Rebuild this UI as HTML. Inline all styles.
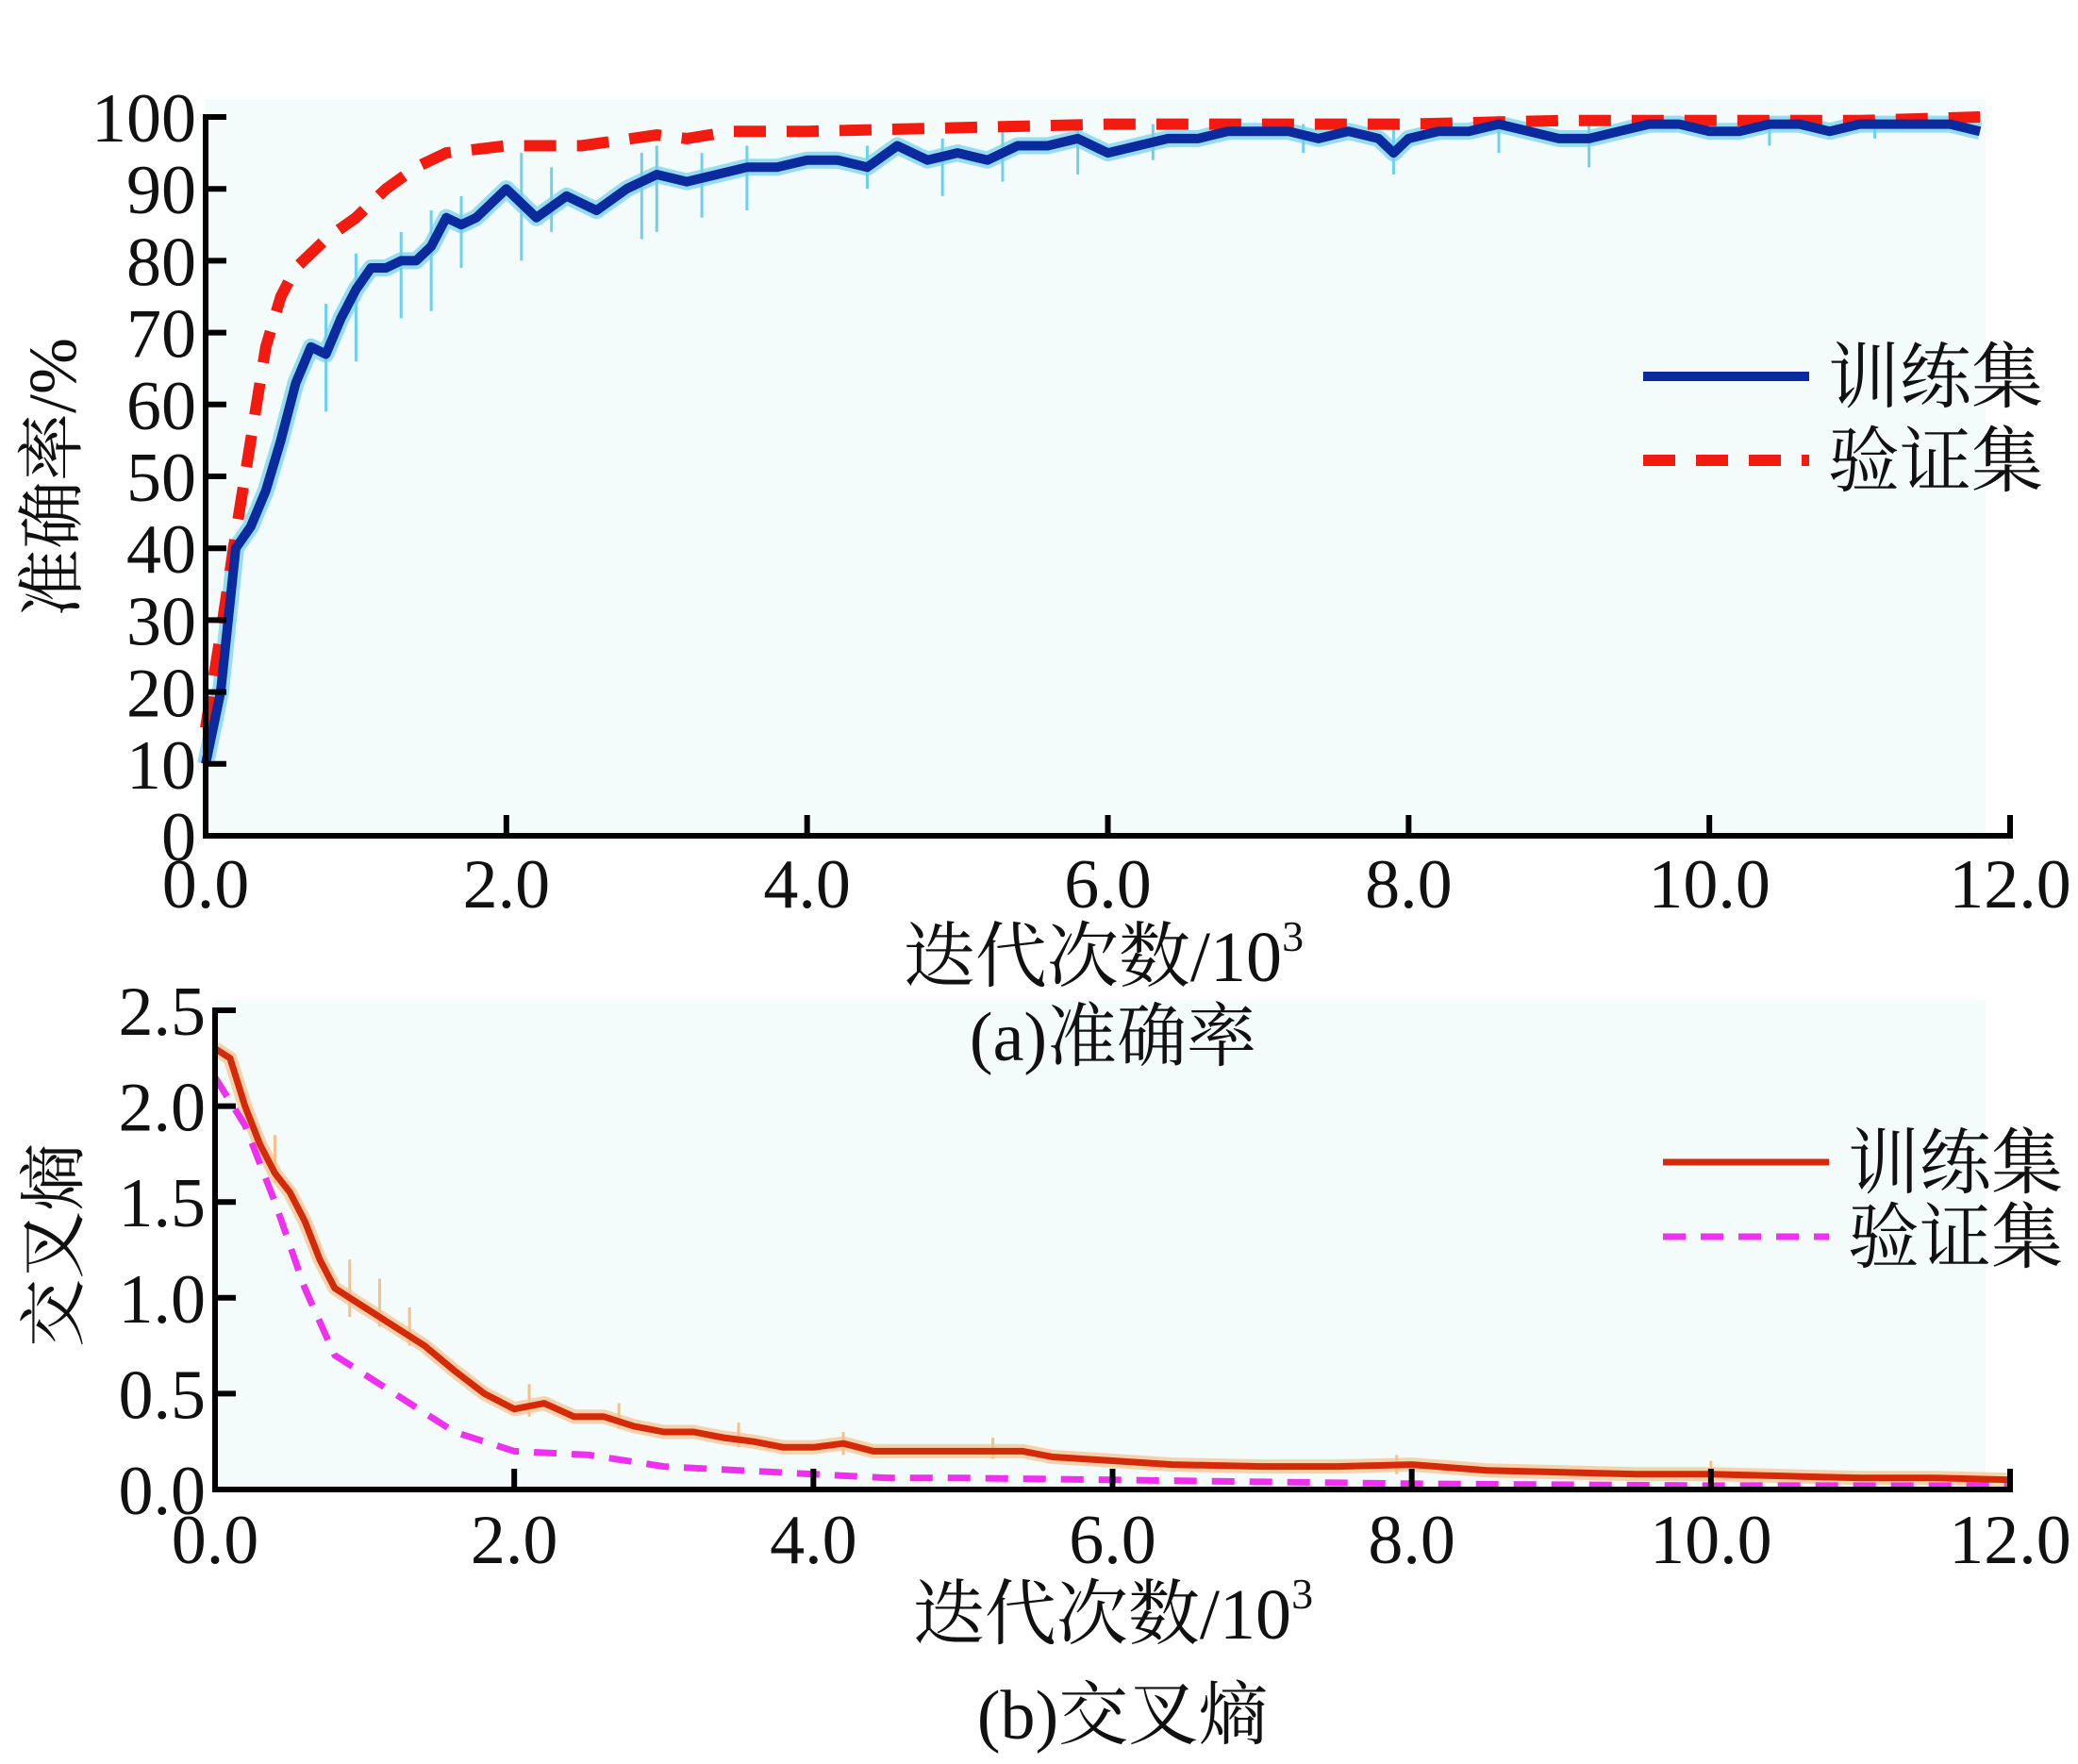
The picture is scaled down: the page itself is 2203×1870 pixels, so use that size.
<!DOCTYPE html>
<html><head><meta charset="utf-8"><style>
html,body{margin:0;padding:0;background:#fff}
svg{display:block}
text{font-family:"Liberation Serif","Noto Serif CJK SC",serif;fill:#111}
</style></head><body>
<svg id="fig" width="2203" height="1870" viewBox="0 0 2203 1870" xmlns="http://www.w3.org/2000/svg">
<g id="ga"></g>
<g id="gb"></g>
<g id="caps"></g>
</svg>
<script>
// ---- chart (a) data ----
const accTrainX=[0,0.1,0.2,0.3,0.4,0.5,0.6,0.7,0.8,0.9,1.0,1.1,1.2,1.3,1.4,1.5,1.6,1.7,1.8,2.0,2.2,2.4,2.6,2.8,3.0,3.2,3.4,3.6,3.8,4.0,4.2,4.4,4.6,4.8,5.0,5.2,5.4,5.6,5.8,6.0,6.2,6.4,6.6,6.8,7.0,7.2,7.4,7.6,7.8,7.9,8.0,8.2,8.4,8.6,8.8,9.0,9.2,9.4,9.6,9.8,10.0,10.2,10.4,10.6,10.8,11.0,11.2,11.4,11.6,11.8];
const accTrain=[10,20,40,43,48,55,63,68,67,72,76,79,79,80,80,82,86,85,86,90,86,89,87,90,92,91,92,93,93,94,94,93,96,94,95,94,96,96,97,95,96,97,97,98,98,98,97,98,97,95,97,98,98,99,98,97,97,98,99,99,98,98,99,99,98,99,99,99,99,98];
const accValX=[0,0.1,0.2,0.3,0.4,0.5,0.6,0.8,1.0,1.2,1.4,1.6,1.8,2.0,2.5,3.0,3.2,3.5,4,5,6,7,8,9,10,11,11.8];
const accVal=[15,28,42,55,68,75,79,83,86,90,93,95,95.5,96,96,97.5,97,98,98,98.5,99,99,99,99.5,99.5,99.5,100];
const accSpikeX=[0.8,1.0,1.3,1.5,1.7,2.1,2.3,2.9,3.0,3.3,3.6,4.4,4.9,5.3,5.8,6.3,7.3,7.9,8.6,9.2,10.4,11.1];
const accSpikeLo=[59,66,72,73,79,80,84,83,84,86,87,90,89,91,92,94,95,92,95,93,96,97];
const accSpikeHi=[74,81,84,87,89,95,93,95,96,95,96,96,97,98,99,99,99,99,100,99,100,100];
const accYTicks=[0,10,20,30,40,50,60,70,80,90,100];
const xTicks=[0,2,4,6,8,10,12];
const xTickLabels=["0.0","2.0","4.0","6.0","8.0","10.0","12.0"];
// ---- chart (b) data ----
const lossTrainX=[0,0.1,0.2,0.3,0.4,0.5,0.6,0.7,0.8,0.9,1.0,1.2,1.4,1.6,1.8,2.0,2.2,2.4,2.6,2.8,3.0,3.2,3.4,3.6,3.8,4.0,4.2,4.4,4.6,5.0,5.4,5.6,6.0,6.4,7,7.5,8.0,8.5,9,9.5,10,10.5,11,11.5,12];
const lossTrain=[2.3,2.25,2.0,1.8,1.65,1.55,1.4,1.2,1.05,1.0,0.95,0.85,0.75,0.62,0.5,0.42,0.45,0.38,0.38,0.33,0.3,0.3,0.27,0.25,0.22,0.22,0.24,0.2,0.2,0.2,0.2,0.17,0.15,0.13,0.12,0.12,0.13,0.1,0.09,0.08,0.08,0.07,0.06,0.06,0.05];
const lossValX=[0,0.2,0.4,0.6,0.8,1.0,1.2,1.4,1.6,1.8,2.0,2.5,3,3.5,4,4.5,5,6,7,8,10,12];
const lossVal=[2.15,1.9,1.5,1.05,0.7,0.6,0.5,0.4,0.3,0.25,0.2,0.18,0.12,0.1,0.08,0.06,0.06,0.05,0.04,0.03,0.02,0.02];
const lossSpikeX=[0.4,0.9,1.1,1.3,2.1,2.7,3.5,4.2,5.2,7.9,10.0];
const lossSpikeLo=[1.6,0.9,0.85,0.75,0.38,0.32,0.22,0.18,0.16,0.08,0.05];
const lossSpikeHi=[1.85,1.2,1.1,0.95,0.55,0.45,0.35,0.3,0.27,0.18,0.15];
const lossYTicks=[0,0.5,1.0,1.5,2.0,2.5];
const lossYLabels=["0.0","0.5","1.0","1.5","2.0","2.5"];

const NS="http://www.w3.org/2000/svg";
function mk(parent,tag,attrs,txt){const e=document.createElementNS(NS,tag);for(const k in attrs)e.setAttribute(k,attrs[k]);if(txt!==undefined)e.textContent=txt;parent.appendChild(e);return e;}
function pathD(xs,ys,sx,sy){return xs.map((x,i)=>(i?"L":"M")+sx(x).toFixed(1)+" "+sy(ys[i]).toFixed(1)).join(" ");}
const caps=document.getElementById("caps");

function chart(g,o){
  const sx=v=>o.x0+(v-0)/12*(o.x1-o.x0);
  const sy=v=>o.y0-(v-o.ymin)/(o.ymax-o.ymin)*(o.y0-o.ytop);
  let bg=mk(g,"rect",{x:o.x0,y:o.bgTop,width:o.bgRight-o.x0,height:o.y0-o.bgTop,fill:"#f3fbfb"});
  
  
  o.spX.forEach((x,i)=>{
    let s=mk(g,"line",{x1:sx(x),x2:sx(x),y1:sy(o.spLo[i]),y2:sy(o.spHi[i]),stroke:o.rawColor,"stroke-width":3});
    
    
  });
  let raw=mk(g,"path",{d:pathD(o.tx,o.ty,sx,sy),fill:"none",stroke:o.rawColor,"stroke-width":o.trainW+8,"stroke-linejoin":"round",opacity:0.7});
  
  
  let vl=mk(g,"path",{d:pathD(o.vx,o.vy,sx,sy),fill:"none",stroke:o.valColor,"stroke-width":o.valW,"stroke-dasharray":o.dash});
  
  
  let tl=mk(g,"path",{d:pathD(o.tx,o.ty,sx,sy),fill:"none",stroke:o.trainColor,"stroke-width":o.trainW,"stroke-linejoin":"round"});
  
  
  let ax=mk(g,"path",{d:`M${o.x0} ${o.ytop-3} L${o.x0} ${o.y0} L${o.x1} ${o.y0} L${o.x1} ${o.y0-22}`,fill:"none",stroke:"#000","stroke-width":6});
  
  
  o.yt.forEach((v,i)=>{
    let t=mk(g,"line",{x1:o.x0,x2:o.x0+22,y1:sy(v),y2:sy(v),stroke:"#000","stroke-width":6});
    
    
    let l=mk(g,"text",{x:o.x0-10,y:sy(v)+26,"font-size":74,"text-anchor":"end"},o.yl[i]);
    
    
  });
  xTicks.forEach((v,i)=>{
    if(i>0&&i<6){let t=mk(g,"line",{x1:sx(v),x2:sx(v),y1:o.y0,y2:o.y0-22,stroke:"#000","stroke-width":6});
    
    }
    let l=mk(g,"text",{x:sx(v),y:o.xlY,"font-size":74,"text-anchor":"middle"},xTickLabels[i]);
    
    
  });
  let xt=mk(g,"text",{x:o.xtX,y:o.xtY,"font-size":76,"text-anchor":"middle"});
  
  
  xt.innerHTML='迭代次数/10<tspan font-size="46" dy="-32">3</tspan>';
  let yt=mk(g,"text",{x:0,y:0,"font-size":72,"text-anchor":"middle",transform:`translate(${o.ytX},${o.ytY}) rotate(-90)`},o.yTitle);
  
  
  let cap=mk(caps,"text",{x:o.capX,y:o.capY,"font-size":74,"text-anchor":"middle"},o.caption);
  
  
  let lg=mk(g,"g",{});
  
  
  let l1=mk(lg,"line",{x1:o.lgX,x2:o.lgX+176,y1:o.lgY,y2:o.lgY,stroke:o.trainColor,"stroke-width":o.trainW});
  
  
  let t1=mk(lg,"text",{x:o.lgX+196,y:o.lgY+27,"font-size":76},"训练集");
  
  
  let l2=mk(lg,"line",{x1:o.lgX,x2:o.lgX+176,y1:o.lgY+o.lgGap,y2:o.lgY+o.lgGap,stroke:o.valColor,"stroke-width":o.valW,"stroke-dasharray":o.dash});
  
  
  let t2=mk(lg,"text",{x:o.lgX+196,y:o.lgY+o.lgGap+27,"font-size":76},"验证集");
  
  
}
chart(document.getElementById("ga"),{x0:218,x1:2131,y0:886,ytop:124,ymin:0,ymax:100,bgTop:105,bgRight:2105,
  tx:accTrainX,ty:accTrain,vx:accValX,vy:accVal,spX:accSpikeX,spLo:accSpikeLo,spHi:accSpikeHi,
  rawColor:"#6fd0ec",trainColor:"#0a2a9e",trainW:10,valColor:"#f31b0f",valW:12,dash:"34 22",
  yt:accYTicks,yl:accYTicks.map(String),xlY:962,xtX:1170,xtY:1040,ytX:80,ytY:506,yTitle:"准确率/%",
  capX:1180,capY:1124,caption:"(a)准确率",lgX:1742,lgY:399,lgGap:89});
chart(document.getElementById("gb"),{x0:228,x1:2131,y0:1579,ytop:1071,ymin:0,ymax:2.5,bgTop:1060,bgRight:2105,
  tx:lossTrainX,ty:lossTrain,vx:lossValX,vy:lossVal,spX:lossSpikeX,spLo:lossSpikeLo,spHi:lossSpikeHi,
  rawColor:"#f7c08a",trainColor:"#d42a0a",trainW:7,valColor:"#f030f0",valW:7,dash:"24 16",
  yt:lossYTicks,yl:lossYLabels,xlY:1657,xtX:1180,xtY:1737,ytX:82,ytY:1320,yTitle:"交叉熵",
  capX:1190,capY:1843,caption:"(b)交叉熵",lgX:1763,lgY:1232,lgGap:79});
</script>
</body></html>
